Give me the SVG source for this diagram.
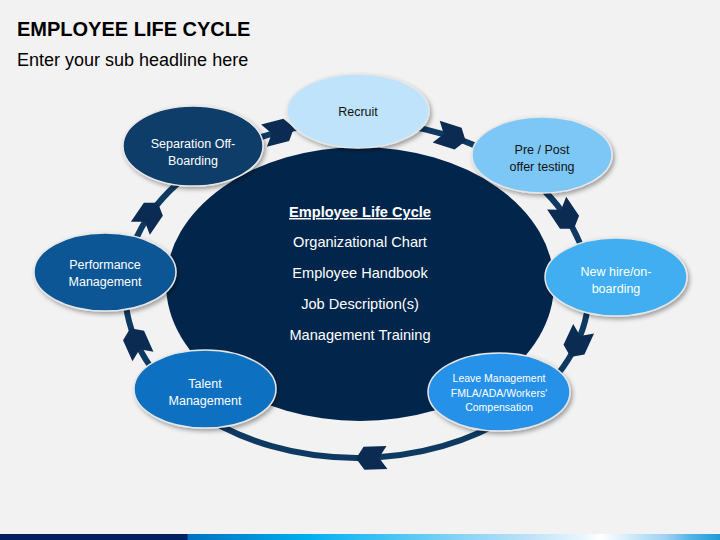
<svg xmlns="http://www.w3.org/2000/svg" width="720" height="540" viewBox="0 0 720 540">
  <defs>
    <filter id="sh" x="-20%" y="-20%" width="140%" height="150%">
      <feDropShadow dx="2" dy="2.5" stdDeviation="2" flood-color="#000" flood-opacity="0.35"/>
    </filter>
    <linearGradient id="bar" x1="0" y1="0" x2="1" y2="0">
      <stop offset="0" stop-color="#002060"/>
      <stop offset="0.26" stop-color="#002060"/>
      <stop offset="0.261" stop-color="#0070C0"/>
      <stop offset="0.43" stop-color="#00B0F0"/>
      <stop offset="0.64" stop-color="#86D3F5"/>
      <stop offset="0.73" stop-color="#BDE0F8"/>
      <stop offset="0.81" stop-color="#E8F6FD"/>
      <stop offset="0.835" stop-color="#FFFFFF"/>
      <stop offset="0.886" stop-color="#C4E5F9"/>
      <stop offset="0.925" stop-color="#A0D0F2"/>
      <stop offset="0.957" stop-color="#58B4E8"/>
      <stop offset="1" stop-color="#1E9BD7"/>
    </linearGradient>
    <polygon id="chev" points="15,0 7,-11.5 -16,-11.5 -8,0 -16,11.5 7,11.5"/>
    <style>
      .title{font-family:"Liberation Sans",Arial,sans-serif;font-weight:bold;font-size:20px;fill:#000}
      .sub{font-family:"Liberation Sans",Arial,sans-serif;font-size:18px;fill:#000}
      .node{stroke:#E6E6E6;stroke-width:1.5;filter:url(#sh)}
      .lbl{font-family:"Liberation Sans",Arial,sans-serif;font-size:12.5px;text-anchor:middle}
      .dk{fill:#111111}
      .wt{fill:#FFFFFF}
      .small{font-size:10.5px}
      .ctr{font-family:"Liberation Sans",Arial,sans-serif;font-size:14.6px;fill:#FFFFFF;text-anchor:middle}
      .ring{fill:none;stroke:#0E3A62;stroke-width:6}
      .arrow{fill:#0B2B52}
    </style>
  </defs>

  <rect x="0" y="0" width="720" height="540" fill="#F2F2F2"/>
  <rect x="0" y="534" width="720" height="6" fill="url(#bar)"/>

  <text class="title" x="17" y="36">EMPLOYEE LIFE CYCLE</text>
  <text class="sub" x="17" y="66">Enter your sub headline here</text>

  <g id="connectors">
    <ellipse class="ring" cx="357" cy="290" rx="232" ry="168"/>
    <use href="#chev" class="arrow" transform="translate(279.5,131.6) rotate(-14.4)"/>
    <use href="#chev" class="arrow" transform="translate(451.4,136.5) rotate(17.9)"/>
    <use href="#chev" class="arrow" transform="translate(565.6,216.4) rotate(56)"/>
    <use href="#chev" class="arrow" transform="translate(576.9,343.3) rotate(114.8)"/>
    <use href="#chev" class="arrow" transform="translate(371,458) rotate(177.8)"/>
    <use href="#chev" class="arrow" transform="translate(136.4,341.9) rotate(-114.2)"/>
    <use href="#chev" class="arrow" transform="translate(149.4,215.1) rotate(-55.5)"/>
  </g>

  <g id="center">
    <ellipse cx="360" cy="284" rx="194" ry="137" fill="#02264B"/>
    <text class="ctr" x="360" y="217" font-weight="bold" font-size="15.5" text-decoration="underline">Employee Life Cycle</text>
    <text class="ctr" x="360" y="247">Organizational Chart</text>
    <text class="ctr" x="360" y="278">Employee Handbook</text>
    <text class="ctr" x="360" y="309">Job Description(s)</text>
    <text class="ctr" x="360" y="340">Management Training</text>
  </g>

  <g id="recruit">
    <ellipse class="node" cx="358" cy="111" rx="71" ry="37" fill="#BEE3FB"/>
    <text class="lbl dk" x="358" y="115.5">Recruit</text>
  </g>
  <g id="prepost">
    <ellipse class="node" cx="542" cy="155" rx="70" ry="38" fill="#7DC7F7"/>
    <text class="lbl dk" x="542" y="153.5">Pre / Post</text>
    <text class="lbl dk" x="542" y="170.5">offer testing</text>
  </g>
  <g id="newhire">
    <ellipse class="node" cx="616" cy="277" rx="71" ry="39" fill="#3FAEF0"/>
    <text class="lbl wt" x="616" y="275.5">New hire/on-</text>
    <text class="lbl wt" x="616" y="292.5">boarding</text>
  </g>
  <g id="leave">
    <ellipse class="node" cx="499" cy="392" rx="71" ry="39" fill="#2791E8"/>
    <text class="lbl wt small" x="499" y="382">Leave Management</text>
    <text class="lbl wt small" x="499" y="396.5">FMLA/ADA/Workers'</text>
    <text class="lbl wt small" x="499" y="411">Compensation</text>
  </g>
  <g id="talent">
    <ellipse class="node" cx="205" cy="389" rx="71" ry="39" fill="#0B6FC0"/>
    <text class="lbl wt" x="205" y="387.5">Talent</text>
    <text class="lbl wt" x="205" y="404.5">Management</text>
  </g>
  <g id="performance">
    <ellipse class="node" cx="105" cy="272" rx="71" ry="39" fill="#0D5795"/>
    <text class="lbl wt" x="105" y="268.5">Performance</text>
    <text class="lbl wt" x="105" y="285.5">Management</text>
  </g>
  <g id="separation">
    <ellipse class="node" cx="193" cy="146" rx="70" ry="40" fill="#0B3C68"/>
    <text class="lbl wt" x="193" y="147.5">Separation Off-</text>
    <text class="lbl wt" x="193" y="164.5">Boarding</text>
  </g>
</svg>
